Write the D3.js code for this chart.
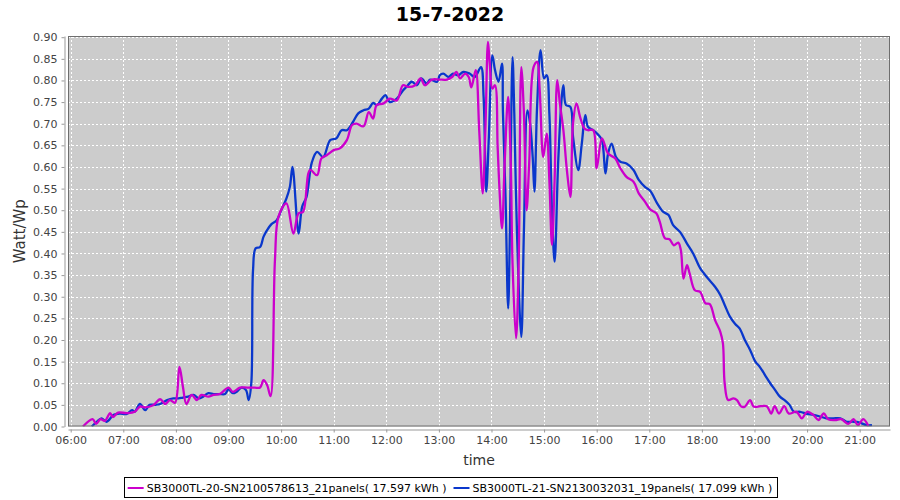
<!DOCTYPE html>
<html><head><meta charset="utf-8">
<script src="https://cdn.jsdelivr.net/npm/d3@7/dist/d3.min.js"></script>
<style>body{margin:0;background:#fff}</style>
</head><body><svg id="c" width="900" height="500"></svg>
<script>
const chartTitle = "15-7-2022";
const xLabel = "time";
const yLabel = "Watt/Wp";
const seriesNames = [
  "SB3000TL-20-SN2100578613_21panels( 17.597 kWh )",
  "SB3000TL-21-SN2130032031_19panels( 17.099 kWh )"
];
const seriesColors = ["#cc00cc", "#0a37cc"];
const yTickValues = [0,0.05,0.10,0.15,0.20,0.25,0.30,0.35,0.40,0.45,0.50,0.55,0.60,0.65,0.70,0.75,0.80,0.85,0.90];
const xTickLabels = ["06:00","07:00","08:00","09:00","10:00","11:00","12:00","13:00","14:00","15:00","16:00","17:00","18:00","19:00","20:00","21:00"];

// SB3000TL-20 (21 panels)
const inverter20 = [
["06:14",0.000],["06:25",0.017],["06:29",0.006],["06:34",0.017],["06:39",0.013],["06:45",0.031],["06:48",0.022],["06:54",0.032],
["07:04",0.031],["07:13",0.034],["07:19",0.046],["07:25",0.044],["07:34",0.049],["07:42",0.063],["07:48",0.052],["07:53",0.061],["07:59",0.055],
["08:04",0.138],["08:08",0.092],["08:12",0.052],["08:18",0.073],["08:24",0.061],["08:29",0.073],["08:37",0.069],["08:43",0.073],["08:50",0.075],
["09:00",0.090],["09:05",0.080],["09:13",0.090],["09:21",0.090],["09:30",0.090],["09:36",0.090],["09:40",0.107],["09:44",0.096],["09:48",0.070],
["09:53",0.385],["09:57",0.485],["10:06",0.516],["10:14",0.446],["10:20",0.493],["10:25",0.496],["10:33",0.593],["10:41",0.581],["10:46",0.620],
["10:52",0.627],["11:00",0.639],["11:07",0.643],["11:15",0.662],["11:21",0.697],["11:26",0.700],["11:34",0.694],["11:40",0.727],["11:45",0.712],
["11:49",0.743],["11:57",0.747],["12:04",0.758],["12:12",0.754],["12:19",0.789],["12:25",0.785],["12:33",0.789],["12:39",0.805],["12:44",0.789],
["12:52",0.802],["13:01",0.802],["13:09",0.802],["13:15",0.808],["13:20",0.820],["13:24",0.805],["13:30",0.816],["13:34",0.808],["13:37",0.784],
["13:42",0.824],["13:46",0.685],["13:50",0.539],["13:53",0.685],["13:56",0.889],["13:58",0.839],["14:01",0.781],["14:04",0.789],["14:07",0.647],
["14:09",0.554],["14:12",0.458],["14:15",0.608],["14:19",0.762],["14:22",0.608],["14:24",0.377],["14:28",0.204],["14:31",0.377],["14:34",0.831],
["14:37",0.724],["14:40",0.500],["14:43",0.608],["14:48",0.831],["14:52",0.843],["14:55",0.777],["14:59",0.623],["15:03",0.677],["15:06",0.570],
["15:09",0.420],["15:12",0.570],["15:15",0.801],["15:18",0.747],["15:22",0.685],["15:26",0.593],["15:30",0.531],["15:33",0.701],["15:37",0.747],
["15:41",0.716],["15:46",0.689],["15:50",0.685],["15:56",0.685],["16:00",0.597],["16:06",0.666],["16:13",0.631],["16:21",0.620],["16:27",0.597],
["16:34",0.577],["16:42",0.566],["16:48",0.539],["16:55",0.520],["17:01",0.502],["17:08",0.493],["17:12",0.473],["17:18",0.435],["17:23",0.433],
["17:28",0.419],["17:33",0.425],["17:36",0.408],["17:39",0.342],["17:43",0.373],["17:46",0.354],["17:52",0.315],["17:58",0.311],["18:04",0.285],
["18:09",0.283],["18:15",0.246],["18:21",0.219],["18:24",0.192],["18:26",0.100],["18:30",0.061],["18:36",0.065],["18:40",0.061],["18:45",0.046],
["18:49",0.046],["18:55",0.061],["18:59",0.046],["19:04",0.046],["19:14",0.047],["19:19",0.030],["19:23",0.047],["19:28",0.030],["19:34",0.047],
["19:39",0.030],["19:48",0.034],["19:54",0.019],["20:00",0.034],["20:07",0.027],["20:13",0.015],["20:19",0.030],["20:24",0.017],["20:32",0.015],
["20:39",0.017],["20:47",0.006],["20:53",0.017],["20:58",0.003],["21:04",0.017],["21:10",0.001]
];

// SB3000TL-21 (19 panels)
const inverter21 = [
["06:24",0.000],["06:30",0.011],["06:35",0.019],["06:41",0.011],["06:49",0.027],["06:56",0.030],["07:04",0.029],["07:10",0.038],["07:13",0.034],
["07:19",0.052],["07:25",0.038],["07:30",0.050],["07:36",0.050],["07:42",0.052],["07:50",0.061],["07:57",0.065],["08:03",0.065],["08:08",0.067],
["08:14",0.069],["08:20",0.073],["08:26",0.065],["08:31",0.069],["08:37",0.077],["08:43",0.075],["08:50",0.075],["08:56",0.075],["09:00",0.086],
["09:05",0.077],["09:09",0.080],["09:15",0.090],["09:20",0.084],["09:23",0.061],["09:26",0.100],["09:28",0.362],["09:31",0.412],["09:36",0.415],
["09:40",0.439],["09:44",0.454],["09:49",0.468],["09:55",0.477],["10:01",0.504],["10:06",0.527],["10:10",0.554],["10:13",0.600],["10:20",0.446],
["10:24",0.508],["10:29",0.531],["10:35",0.610],["10:41",0.635],["10:48",0.623],["10:56",0.662],["11:03",0.666],["11:09",0.685],["11:15",0.685],
["11:22",0.704],["11:28",0.724],["11:34",0.731],["11:40",0.735],["11:45",0.748],["11:49",0.743],["11:55",0.758],["11:59",0.766],["12:04",0.750],
["12:12",0.758],["12:19",0.777],["12:23",0.785],["12:29",0.797],["12:35",0.789],["12:40",0.805],["12:46",0.793],["12:50",0.802],["12:58",0.797],
["13:01",0.812],["13:05",0.816],["13:11",0.808],["13:16",0.816],["13:22",0.812],["13:28",0.820],["13:35",0.816],["13:41",0.808],["13:48",0.831],
["13:51",0.762],["13:54",0.543],["13:57",0.670],["14:01",0.858],["14:04",0.824],["14:08",0.797],["14:12",0.839],["14:13",0.731],["14:16",0.531],
["14:19",0.273],["14:21",0.454],["14:24",0.854],["14:26",0.724],["14:29",0.454],["14:34",0.207],["14:37",0.454],["14:41",0.731],["14:44",0.701],
["14:47",0.623],["14:49",0.543],["14:52",0.739],["14:56",0.870],["15:00",0.805],["15:03",0.812],["15:06",0.724],["15:09",0.500],["15:12",0.381],
["15:16",0.608],["15:20",0.758],["15:22",0.789],["15:25",0.743],["15:30",0.739],["15:33",0.670],["15:39",0.593],["15:43",0.654],["15:47",0.720],
["15:50",0.693],["15:56",0.685],["16:02",0.674],["16:06",0.662],["16:10",0.585],["16:13",0.631],["16:17",0.654],["16:22",0.623],["16:27",0.612],
["16:34",0.608],["16:42",0.593],["16:48",0.570],["16:55",0.554],["17:01",0.545],["17:09",0.516],["17:16",0.496],["17:22",0.489],["17:27",0.466],
["17:35",0.450],["17:43",0.423],["17:50",0.400],["17:58",0.366],["18:02",0.355],["18:07",0.342],["18:15",0.323],["18:21",0.304],["18:26",0.281],
["18:32",0.254],["18:38",0.237],["18:43",0.227],["18:49",0.200],["18:55",0.177],["19:01",0.150],["19:06",0.138],["19:12",0.119],["19:18",0.100],
["19:23",0.086],["19:29",0.069],["19:35",0.060],["19:40",0.050],["19:45",0.034],["19:52",0.034],["20:00",0.029],["20:07",0.027],["20:15",0.023],
["20:22",0.019],["20:30",0.019],["20:38",0.019],["20:45",0.011],["20:53",0.011],["21:00",0.009],["21:08",0.003],["21:14",0.003]
];

const parseT = d3.utcParse("%Y-%m-%d %H:%M:%S");
const parseHM = s => parseT("2022-07-15 " + s + ":00");

const plot = {left: 68, right: 890, top: 36, bottom: 426.5};
const svg = d3.select("#c");
const fontTick = "DejaVu Sans, sans-serif";

const x = d3.scaleUtc()
  .domain([parseT("2022-07-15 05:56:55"), parseT("2022-07-15 21:34:35")])
  .range([plot.left, plot.right]);
const y = d3.scaleLinear().domain([0, 0.9028]).range([plot.bottom, plot.top]);

svg.append("rect").attr("x", plot.left).attr("y", plot.top)
  .attr("width", plot.right - plot.left).attr("height", plot.bottom - plot.top)
  .attr("fill", "#cccccc");

const xTicks = xTickLabels.map(parseHM);

svg.append("g").selectAll("line").data(xTicks).join("line")
  .attr("x1", d => Math.round(x(d)) + 0.5).attr("x2", d => Math.round(x(d)) + 0.5)
  .attr("y1", plot.top).attr("y2", plot.bottom)
  .attr("stroke", "#fff").attr("stroke-width", 1).attr("stroke-dasharray", "2,2");
svg.append("g").selectAll("line").data(yTickValues.slice(1)).join("line")
  .attr("x1", plot.left).attr("x2", plot.right)
  .attr("y1", d => Math.round(y(d)) + 0.5).attr("y2", d => Math.round(y(d)) + 0.5)
  .attr("stroke", "#fff").attr("stroke-width", 1).attr("stroke-dasharray", "2,2");

const line = d3.line()
  .x(d => x(parseHM(d[0])))
  .y(d => y(d[1]))
  .curve(d3.curveCatmullRom.alpha(0.5));

svg.append("clipPath").attr("id", "pc").append("rect")
  .attr("x", plot.left).attr("y", plot.top - 2)
  .attr("width", plot.right - plot.left).attr("height", plot.bottom - plot.top + 2);

const lines = svg.append("g").attr("clip-path", "url(#pc)");
[[inverter21, seriesColors[1]], [inverter20, seriesColors[0]]].forEach(([data, col]) => {
  lines.append("path").datum(data).attr("d", line)
    .attr("fill", "none").attr("stroke", col).attr("stroke-width", 2.3)
    .attr("stroke-linejoin", "round");
});

svg.append("rect").attr("x", plot.left + 0.5).attr("y", plot.top + 0.5)
  .attr("width", plot.right - plot.left - 1).attr("height", plot.bottom - plot.top - 1)
  .attr("fill", "none").attr("stroke", "#6e6e6e").attr("stroke-width", 1);

const yAxis = d3.axisLeft(y).tickValues(yTickValues).tickFormat(d3.format(".2f"))
  .tickSizeInner(3).tickSizeOuter(0).tickPadding(4);
const gy = svg.append("g").attr("transform", `translate(${plot.left - 3.5},0)`).call(yAxis);
gy.select(".domain").attr("stroke", "#999");
gy.selectAll(".tick line").attr("stroke", "#999");
gy.selectAll("text").attr("font-family", fontTick).attr("font-size", 11).attr("fill", "#444");

const xAxis = d3.axisBottom(x).tickValues(xTicks).tickFormat(d3.utcFormat("%H:%M"))
  .tickSizeInner(3).tickSizeOuter(0).tickPadding(4);
const gx = svg.append("g").attr("transform", `translate(0,${plot.bottom + 3})`).call(xAxis);
gx.select(".domain").attr("stroke", "#999");
gx.selectAll(".tick line").attr("stroke", "#999");
gx.selectAll("text").attr("font-family", fontTick).attr("font-size", 11).attr("fill", "#444");

svg.append("text").attr("x", 450).attr("y", 21).attr("text-anchor", "middle")
  .attr("font-family", "DejaVu Sans, sans-serif").attr("font-weight", "bold")
  .attr("font-size", 19).attr("fill", "#000").text(chartTitle);

svg.append("text").attr("x", (plot.left + plot.right) / 2).attr("y", 465)
  .attr("text-anchor", "middle").attr("font-family", "DejaVu Sans, sans-serif")
  .attr("font-size", 14).attr("fill", "#333").text(xLabel);
svg.append("text")
  .attr("transform", `translate(25,${(plot.top + plot.bottom) / 2}) rotate(-90)`)
  .attr("text-anchor", "middle").attr("font-family", "DejaVu Sans, sans-serif")
  .attr("font-size", 15).attr("fill", "#333").text(yLabel);

const lg = svg.append("g");
const box = lg.append("rect").attr("y", 477.5).attr("height", 20)
  .attr("fill", "#fff").attr("stroke", "#000").attr("stroke-width", 1);
let cx = 0;
const items = [];
seriesNames.forEach((name, i) => {
  const g = lg.append("g");
  g.append("line").attr("x1", cx).attr("x2", cx + 16).attr("y1", 488).attr("y2", 488)
    .attr("stroke", seriesColors[i]).attr("stroke-width", 2);
  const t = g.append("text").attr("x", cx + 19).attr("y", 492)
    .attr("font-family", fontTick).attr("font-size", 11).attr("fill", "#000").text(name);
  const w = t.node().getComputedTextLength();
  cx += 19 + w + 7;
  items.push(g);
});
const totalW = cx - 7;
const startX = 450 - totalW / 2;
items.forEach(g => g.attr("transform", `translate(${startX},0)`));
box.attr("x", Math.round(startX - 4) + 0.5).attr("width", Math.round(totalW + 8));
</script>
</body></html>
